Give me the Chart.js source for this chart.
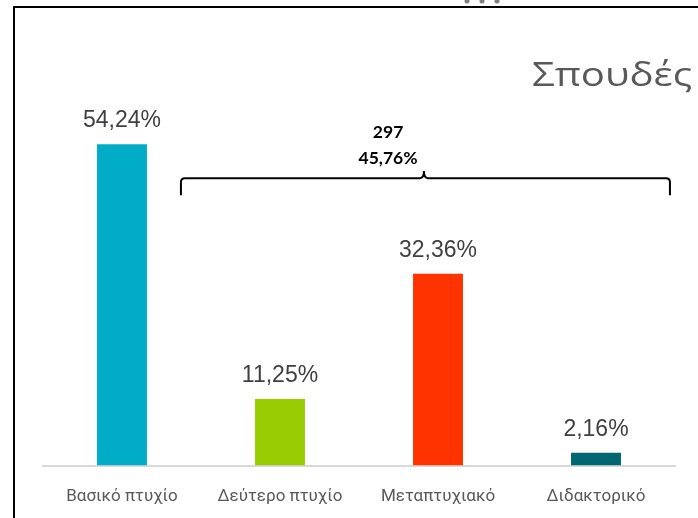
<!DOCTYPE html>
<html lang="el">
<head>
<meta charset="utf-8" />
<title>Σπουδές</title>
<script src="https://cdn.jsdelivr.net/npm/chart.js"></script>
<style>
  body { margin: 0; background: #ffffff; }
  #chart { display: block; }
</style>
</head>
<body>
<canvas id="chart" width="698" height="518"></canvas>
<script>
// data
var categories = ["Βασικό πτυχίο", "Δεύτερο πτυχίο", "Μεταπτυχιακό", "Διδακτορικό"];
var percents = [54.24, 11.25, 32.36, 2.16];
var barColors = ["#00acc6", "#99cc00", "#ff3300", "#006671"];
var chartTitle = "Σπουδές";
var braceCount = "297";
var bracePercent = "45,76%";

function fmt(v) {
  return v.toFixed(2).replace(".", ",") + "%";
}

// frame lines, title, value labels and the brace
var decor = {
  id: "decor",
  afterDatasetsDraw: function (chart) {
    var ctx = chart.ctx;
    var xs = chart.scales.x, ys = chart.scales.y;
    ctx.save();

    // frame
    ctx.strokeStyle = "#000000";
    ctx.lineWidth = 2;
    ctx.beginPath();
    ctx.moveTo(14, 518);
    ctx.lineTo(14, 7);
    ctx.lineTo(698, 7);
    ctx.stroke();
    ctx.fillStyle = "#7f7f7f";
    [467, 482, 497].forEach(function (dx) {
      ctx.beginPath();
      ctx.arc(dx, 1, 2.5, 0, Math.PI * 2);
      ctx.fill();
    });

    // title, stretched a bit wider like the original
    ctx.fillStyle = "#595959";
    ctx.font = "33px 'Open Sans'";
    ctx.textAlign = "left";
    ctx.textBaseline = "alphabetic";
    var tw = ctx.measureText(chartTitle).width;
    ctx.save();
    ctx.translate(532, 86);
    ctx.scale(160 / tw, 1);
    ctx.fillText(chartTitle, 0, 0);
    ctx.restore();

    // value labels
    ctx.fillStyle = "#404040";
    ctx.font = "23px 'Liberation Sans'";
    ctx.textAlign = "center";
    chart.getDatasetMeta(0).data.forEach(function (bar, i) {
      ctx.fillText(fmt(percents[i]), bar.x, bar.y - 17);
    });

    // brace over the last three bars
    var x1 = xs.getPixelForValue(0.373), x2 = xs.getPixelForValue(3.468);
    var xm = xs.getPixelForValue(1.911);
    var yl = ys.getPixelForValue(48.5), yb = ys.getPixelForValue(45.6), yt = ys.getPixelForValue(49.7);
    ctx.strokeStyle = "#000000";
    ctx.lineWidth = 2;
    ctx.beginPath();
    ctx.moveTo(x1, yb);
    ctx.lineTo(x1, yl + 4);
    ctx.quadraticCurveTo(x1, yl, x1 + 4, yl);
    ctx.lineTo(xm - 4, yl);
    ctx.quadraticCurveTo(xm, yl, xm, yt);
    ctx.quadraticCurveTo(xm, yl, xm + 4, yl);
    ctx.lineTo(x2 - 4, yl);
    ctx.quadraticCurveTo(x2, yl, x2, yl + 4);
    ctx.lineTo(x2, yb);
    ctx.stroke();

    ctx.fillStyle = "#000000";
    ctx.font = "bold 17.5px Lato";
    var xt = xs.getPixelForValue(1.684);
    ctx.fillText(braceCount, xt, 138);
    ctx.fillText(bracePercent, xt, 164);

    ctx.restore();
  }
};

new Chart(document.getElementById("chart").getContext("2d"), {
  type: "bar",
  data: {
    labels: categories,
    datasets: [{
      data: percents,
      backgroundColor: barColors,
      borderWidth: 0,
      categoryPercentage: 1,
      barPercentage: 0.316
    }]
  },
  options: {
    responsive: false,
    animation: false,
    layout: { padding: { left: 43, right: 23, top: 110, bottom: -9 } },
    plugins: { legend: { display: false }, tooltip: { enabled: false }, title: { display: false } },
    scales: {
      y: { display: false, min: 0, max: 60 },
      x: {
        grid: { display: false, drawTicks: false },
        border: { color: "#d9d9d9", width: 2 },
        ticks: { color: "#595959", padding: 20.5, font: { family: "Roboto", size: 17 } }
      }
    }
  },
  plugins: [decor]
});
</script>
</body>
</html>
